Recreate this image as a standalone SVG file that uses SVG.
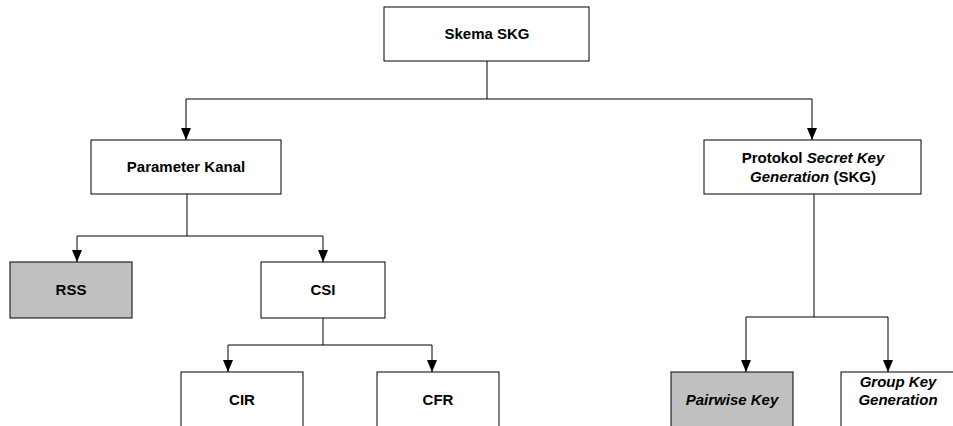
<svg xmlns="http://www.w3.org/2000/svg" width="953" height="426" viewBox="0 0 953 426">
  <style>
    .box { fill: #ffffff; stroke: #000000; stroke-width: 1; }
    .shade { fill: #c0c0c0; }
    .lbl { font-family: "Liberation Sans", Arial, sans-serif; font-size: 15px; font-weight: bold; fill: #000000; text-anchor: middle; }
    .it { font-style: italic; }
    .wire { fill: none; stroke: #000000; stroke-width: 1; }
  </style>
  <defs>
    <marker id="tip" viewBox="0 0 12 10" refX="12" refY="5" markerWidth="12" markerHeight="10" markerUnits="userSpaceOnUse" orient="auto">
      <path d="M0,0 L12,5 L0,10 Z" fill="#000000"/>
    </marker>
  </defs>

  <rect width="953" height="426" fill="#ffffff"/>

  <!-- connectors -->
  <g id="connectors">
    <path class="wire" d="M487,61 V99"/>
    <path class="wire" d="M186,99 H812"/>
    <path class="wire" d="M186,99 V140" marker-end="url(#tip)"/>
    <path class="wire" d="M812,99 V140" marker-end="url(#tip)"/>

    <path class="wire" d="M187,194 V236"/>
    <path class="wire" d="M77,236 H323"/>
    <path class="wire" d="M77,236 V262" marker-end="url(#tip)"/>
    <path class="wire" d="M323,236 V262" marker-end="url(#tip)"/>

    <path class="wire" d="M323,318 V345"/>
    <path class="wire" d="M228,345 H432"/>
    <path class="wire" d="M228,345 V372" marker-end="url(#tip)"/>
    <path class="wire" d="M432,345 V372" marker-end="url(#tip)"/>

    <path class="wire" d="M814,194 V317"/>
    <path class="wire" d="M746,317 H888"/>
    <path class="wire" d="M746,317 V372" marker-end="url(#tip)"/>
    <path class="wire" d="M888,317 V372" marker-end="url(#tip)"/>
  </g>

  <!-- nodes -->
  <g id="skema-skg">
    <rect class="box" x="384" y="7" width="205" height="54"/>
    <text class="lbl" x="487" y="39">Skema SKG</text>
  </g>

  <g id="parameter-kanal">
    <rect class="box" x="91" y="140" width="190" height="54"/>
    <text class="lbl" x="186" y="172">Parameter Kanal</text>
  </g>

  <g id="protokol-skg">
    <rect class="box" x="704" y="140" width="217" height="54"/>
    <text class="lbl" x="813" y="163">Protokol <tspan class="it">Secret Key</tspan></text>
    <text class="lbl" x="813" y="182"><tspan class="it">Generation</tspan> (SKG)</text>
  </g>

  <g id="rss">
    <rect class="box shade" x="10" y="262" width="122" height="56"/>
    <text class="lbl" x="71" y="295">RSS</text>
  </g>

  <g id="csi">
    <rect class="box" x="261" y="262" width="124" height="56"/>
    <text class="lbl" x="323" y="295">CSI</text>
  </g>

  <g id="cir">
    <rect class="box" x="181" y="372" width="122" height="70"/>
    <text class="lbl" x="242" y="405">CIR</text>
  </g>

  <g id="cfr">
    <rect class="box" x="377" y="372" width="122" height="70"/>
    <text class="lbl" x="438" y="405">CFR</text>
  </g>

  <g id="pairwise-key">
    <rect class="box shade" x="671" y="372" width="122" height="70"/>
    <text class="lbl it" x="732" y="405">Pairwise Key</text>
  </g>

  <g id="group-key-generation">
    <rect class="box" x="841" y="372" width="130" height="70"/>
    <text class="lbl it" x="898" y="387">Group Key</text>
    <text class="lbl it" x="898" y="405">Generation</text>
  </g>
</svg>
